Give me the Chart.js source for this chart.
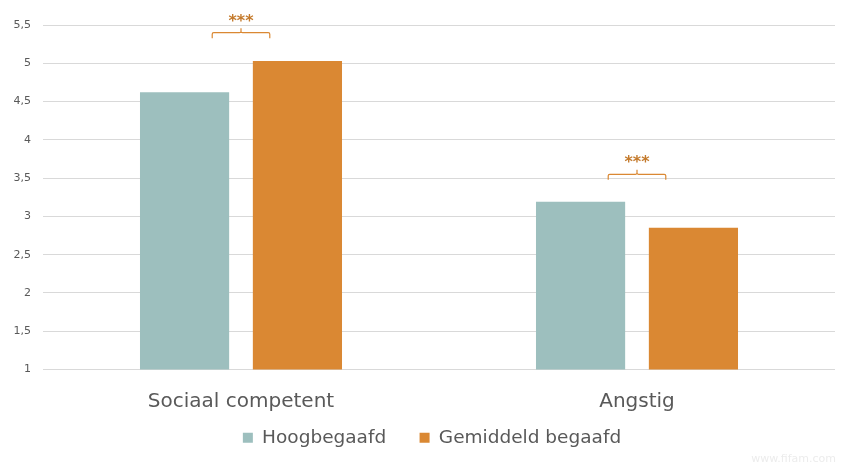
<!DOCTYPE html>
<html>
<head>
<meta charset="utf-8">
<script src="https://cdn.jsdelivr.net/npm/chart.js@4"></script>
<style>
  html, body { margin: 0; padding: 0; background: #fff; }
  #wrap { width: 856px; height: 469px; position: relative; }
</style>
</head>
<body>
<div id="wrap"><canvas id="grafica"></canvas></div>
<script>
// data
var categorieen = ['Sociaal competent', 'Angstig'];
var reeksNamen = ['Hoogbegaafd', 'Gemiddeld begaafd'];
var hoogbegaafd = [4.62, 3.19];
var gemiddeld = [5.03, 2.85];
var yTickLabels = ['1', '1,5', '2', '2,5', '3', '3,5', '4', '4,5', '5', '5,5'];
var sterren = ['***', '***'];
var sterNiveau = [5.4, 3.55]; // hoogte van de haak

var teal = '#9dbfbe';
var oranje = '#da8833';

// haakjes met sterretjes boven elk paar balken
var haakPlugin = {
  id: 'haken',
  afterLayout: function(chart) {
    // legenda iets naar rechts, zoals in het origineel
    chart.legend.left += 9;
    chart.legend.right += 9;
  },
  afterDatasetsDraw: function(chart) {
    var ctx = chart.ctx;
    var y = chart.scales.y;
    var m0 = chart.getDatasetMeta(0), m1 = chart.getDatasetMeta(1);
    ctx.save();
    for (var i = 0; i < categorieen.length; i++) {
      var a = m0.data[i].x, b = m1.data[i].x;
      var inset = (b - a) * 0.245;
      var x1 = a + inset, x2 = b - inset;
      var xm = (x1 + x2) / 2;
      var yy = y.getPixelForValue(sterNiveau[i]);
      ctx.strokeStyle = oranje;
      ctx.lineWidth = 1.2;
      ctx.beginPath();
      ctx.moveTo(x1, yy + 5.5);
      ctx.lineTo(x1, yy + 1.5);
      ctx.quadraticCurveTo(x1, yy, x1 + 1.5, yy);
      ctx.lineTo(xm - 1.5, yy);
      ctx.quadraticCurveTo(xm, yy, xm, yy - 1.5);
      ctx.lineTo(xm, yy - 4.5);
      ctx.moveTo(xm, yy - 1.5);
      ctx.quadraticCurveTo(xm, yy, xm + 1.5, yy);
      ctx.lineTo(x2 - 1.5, yy);
      ctx.quadraticCurveTo(x2, yy, x2, yy + 1.5);
      ctx.lineTo(x2, yy + 5.5);
      ctx.stroke();
      ctx.fillStyle = '#c47a2c';
      ctx.font = 'bold 16px "DejaVu Sans"';
      ctx.textAlign = 'center';
      ctx.textBaseline = 'middle';
      ctx.fillText(sterren[i], xm, yy - 11);
    }
    // watermerk
    ctx.fillStyle = '#ececec';
    ctx.font = '11px "DejaVu Sans"';
    ctx.textAlign = 'right';
    ctx.fillText('www.fifam.com', 836, 459);
    ctx.restore();
  }
};

var ctx = document.getElementById('grafica').getContext('2d');
new Chart(ctx, {
  type: 'bar',
  data: {
    labels: categorieen,
    datasets: [{
      label: reeksNamen[0],
      data: hoogbegaafd,
      backgroundColor: teal,
      barPercentage: 0.79,
      categoryPercentage: 0.57
    }, {
      label: reeksNamen[1],
      data: gemiddeld,
      backgroundColor: oranje,
      barPercentage: 0.79,
      categoryPercentage: 0.57
    }]
  },
  options: {
    responsive: true,
    maintainAspectRatio: false,
    animation: false,
    layout: { padding: { top: 25, right: 21, left: 11, bottom: 12 } },
    plugins: {
      tooltip: { enabled: false },
      legend: {
        position: 'bottom',
        labels: {
          boxWidth: 10,
          boxHeight: 10,
          padding: 9,
          color: '#595959',
          font: { family: 'DejaVu Sans', size: 18.5 },
          generateLabels: function(chart) {
            var items = Chart.defaults.plugins.legend.labels.generateLabels(chart);
            // extra ruimte tussen de twee items
            items[0].text = items[0].text + '\u2003 ';
            return items;
          }
        }
      }
    },
    scales: {
      x: {
        grid: { display: false },
        border: { display: false },
        ticks: {
          color: '#595959',
          padding: 12,
          font: { family: 'DejaVu Sans', size: 20 }
        },
        afterFit: function(scale) { scale.height = 50; }
      },
      y: {
        min: 1,
        max: 5.5,
        border: { display: false },
        grid: { color: '#d9d9d9', drawTicks: false },
        ticks: {
          stepSize: 0.5,
          padding: 12,
          color: '#595959',
          font: { family: 'DejaVu Sans', size: 11 },
          callback: function(v) {
            var idx = Math.round((v - 1) / 0.5);
            return yTickLabels[idx];
          }
        },
        afterFit: function(scale) { scale.width = 32; }
      }
    }
  },
  plugins: [haakPlugin]
});
</script>
</body>
</html>
